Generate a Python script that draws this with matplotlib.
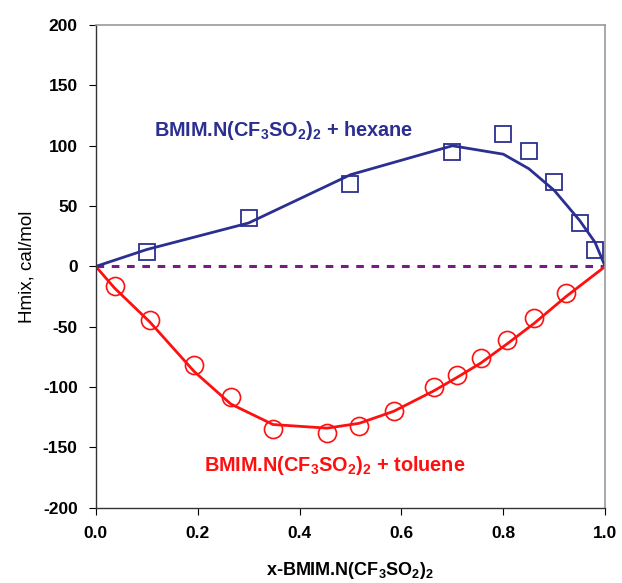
import matplotlib
matplotlib.use("Agg")
import matplotlib.pyplot as plt

plt.rcParams['font.family'] = ['Liberation Sans', 'DejaVu Sans']
plt.rcParams['mathtext.fontset'] = 'custom'
plt.rcParams['mathtext.rm'] = 'Liberation Sans:bold'
plt.rcParams['mathtext.bf'] = 'Liberation Sans:bold'
plt.rcParams['mathtext.default'] = 'bf'
plt.rcParams['axes.unicode_minus'] = False

# Hexane data (squares) and fitted line
hex_x = [0.10, 0.30, 0.50, 0.70, 0.80, 0.85, 0.90, 0.95, 0.98]
hex_y = [12, 40, 68, 95, 110, 96, 70, 36, 14]
hex_fit_x = [0.0, 0.10, 0.30, 0.50, 0.70, 0.80, 0.85, 0.90, 0.95, 0.98, 1.0]
hex_fit_y = [0, 14, 36, 76, 100, 93, 81, 63, 38, 20, 0]

# Toluene data (circles) and fitted line
tol_x = [0.037, 0.106, 0.193, 0.265, 0.348, 0.454, 0.517, 0.585, 0.664, 0.709, 0.756, 0.808, 0.861, 0.923]
tol_y = [-16, -44, -82, -108, -135, -138, -132, -120, -100, -90, -76, -61, -43, -22]
tol_fit_x = [0.0, 0.037, 0.106, 0.193, 0.265, 0.348, 0.454, 0.517, 0.585, 0.664, 0.709, 0.756, 0.808, 0.861, 0.923, 1.0]
tol_fit_y = [0, -18, -46, -87, -114, -131, -134, -130, -120, -103, -92, -80, -64, -47, -25, 0]

zero_x = [0.0, 1.0]
zero_y = [0, 0]

navy = '#2B2F8F'
red = '#FF1010'

fig = plt.figure(figsize=(6.22, 5.83), dpi=100)
ax = fig.add_axes([0.154, 0.129, 0.819, 0.828])

ax.plot(zero_x, zero_y, color='#7B1A86', lw=2.2, ls=(0, (2.5, 2.5)), zorder=1)
ax.plot(hex_fit_x, hex_fit_y, color=navy, lw=2.0, zorder=2)
ax.plot(hex_x, hex_y, ls='none', marker='s', ms=12, mfc='none', mec=navy, mew=1.3, zorder=3)
ax.plot(tol_fit_x, tol_fit_y, color=red, lw=2.0, zorder=2)
ax.plot(tol_x, tol_y, ls='none', marker='o', ms=13, mfc='none', mec=red, mew=1.2, zorder=3)

ax.set_xlim(0, 1.0)
ax.set_ylim(-200, 200)
ax.set_xticks([0.0, 0.2, 0.4, 0.6, 0.8, 1.0])
ax.set_xticklabels(['0.0', '0.2', '0.4', '0.6', '0.8', '1.0'])
ax.set_yticks(range(-200, 201, 50))
ax.tick_params(direction='out', length=5, width=0.8, labelsize=12.5, pad=8)
for lab in ax.get_xticklabels() + ax.get_yticklabels():
    lab.set_fontweight('bold')

for s in ['top', 'right']:
    ax.spines[s].set_color('#999999')
    ax.spines[s].set_linewidth(1.2)
for s in ['left', 'bottom']:
    ax.spines[s].set_color('#333333')
    ax.spines[s].set_linewidth(1.0)

ax.set_xlabel('x-BMIM.N(CF$_3$SO$_2$)$_2$', fontsize=13, fontweight='bold', labelpad=14)
ax.set_ylabel('Hmix, cal/mol', fontsize=13.5, labelpad=5)

ax.text(0.115, 113, 'BMIM.N(CF$_3$SO$_2$)$_2$ + hexane', color=navy, fontsize=14.3,
        fontweight='bold', ha='left', va='center')
ax.text(0.212, -165, 'BMIM.N(CF$_3$SO$_2$)$_2$ + toluene', color=red, fontsize=14.3,
        fontweight='bold', ha='left', va='center')

fig.savefig('out.png', dpi=100)
